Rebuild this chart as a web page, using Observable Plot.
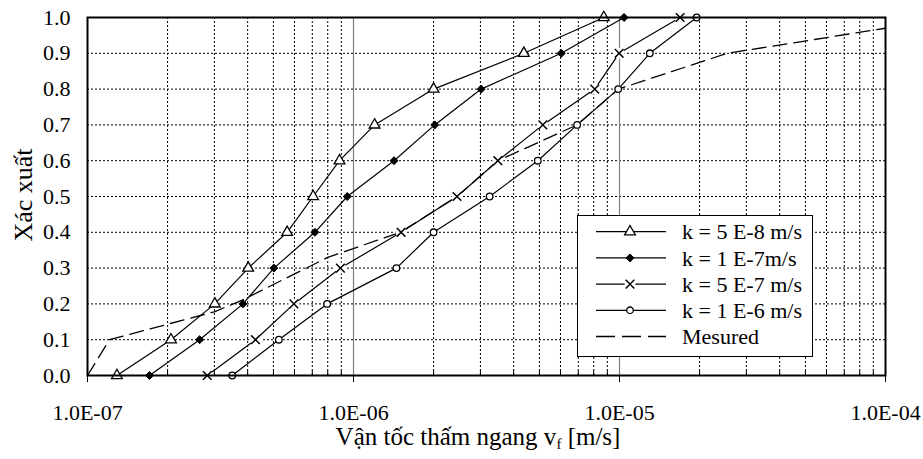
<!DOCTYPE html>
<html><head><meta charset="utf-8">
<script src="https://cdn.jsdelivr.net/npm/d3@7"></script>
<script src="https://cdn.jsdelivr.net/npm/@observablehq/plot@0.6"></script>
<style>body{margin:0;background:#fff} #chart{width:923px;height:459px}
#chart svg, #chart svg text{font-family:"Liberation Serif","Times New Roman",serif !important}</style>
</head><body><div id="chart"></div>
<script>
// Probability levels (y) shared by the four computed series
const probability = [0.0, 0.1, 0.2, 0.3, 0.4, 0.5, 0.6, 0.7, 0.8, 0.9, 1.0];
// Velocity values vf [m/s]
const k5e8 = [1.29e-7, 2.06e-7, 3.01e-7, 4.02e-7, 5.63e-7, 7.05e-7, 8.86e-7, 1.20e-6, 2.00e-6, 4.37e-6, 8.73e-6];
const k1e7 = [1.71e-7, 2.64e-7, 3.84e-7, 5.02e-7, 7.16e-7, 9.47e-7, 1.42e-6, 2.02e-6, 3.02e-6, 6.04e-6, 1.04e-5];
const k5e7 = [2.82e-7, 4.28e-7, 5.97e-7, 8.93e-7, 1.51e-6, 2.45e-6, 3.49e-6, 5.15e-6, 8.07e-6, 9.97e-6, 1.69e-5];
const k1e6 = [3.50e-7, 5.24e-7, 7.96e-7, 1.45e-6, 2.00e-6, 3.25e-6, 4.93e-6, 6.93e-6, 9.89e-6, 1.30e-5, 1.95e-5];
// Measured curve
const measuredV = [1.0e-7, 1.21e-7, 3.0e-7, 3.8e-7, 8.0e-7, 1.5e-6, 2.45e-6, 3.49e-6, 6.93e-6, 9.9e-6, 2.54e-5, 1.0e-4];
const measuredP = [0.0, 0.1, 0.178, 0.21, 0.33, 0.40, 0.50, 0.60, 0.70, 0.80, 0.90, 0.97];

const seriesNames = ["k = 5 E-8 m/s", "k = 1 E-7m/s", "k = 5 E-7 m/s", "k = 1 E-6 m/s", "Mesured"];
const xTicks = [1e-7, 1e-6, 1e-5, 1e-4];
const yTicks = [0.0, 0.1, 0.2, 0.3, 0.4, 0.5, 0.6, 0.7, 0.8, 0.9, 1.0];
const decades = [1e-7, 1e-6, 1e-5];
const minorMultipliers = [2, 3, 4, 5, 6, 7, 8, 9];

const seriesValues = [k5e8, k1e7, k5e7, k1e6];
const rows = [];
seriesValues.forEach((vals, s) => vals.forEach((v, i) => rows.push({series: seriesNames[s], v, p: probability[i]})));
const measured = measuredV.map((v, i) => ({v, p: measuredP[i]}));
const minorGrid = decades.flatMap(d => minorMultipliers.map(m => d * m));
const bySeries = name => rows.filter(r => r.series === name);
const fmt = d => "1.0E-" + String(-Math.round(Math.log10(d))).padStart(2, "0");
const FONT = "Liberation Serif, Times New Roman, serif";

const plot = Plot.plot({
  width: 923, height: 459,
  marginLeft: 87, marginRight: 38, marginTop: 17, marginBottom: 84,
  style: {fontFamily: FONT, fontSize: "22px", color: "black", background: "white"},
  x: {type: "log", domain: [1e-7, 1e-4]},
  y: {domain: [0, 1]},
  marks: [
    Plot.ruleY(yTicks.filter(d => d > 0 && d < 1), {stroke: "black", strokeDasharray: "2,2", strokeWidth: 1}),
    Plot.ruleX(minorGrid, {stroke: "black", strokeDasharray: "2,2", strokeWidth: 1}),
    Plot.ruleX(minorGrid, {y1: 0, y2: 0.012, stroke: "black", strokeWidth: 1}),
    Plot.ruleX([1e-6, 1e-5], {stroke: "#808080", strokeWidth: 1.2}),
    Plot.line(measured, {x: "v", y: "p", stroke: "black", strokeWidth: 1.3, strokeDasharray: "14,7"}),
    Plot.line(rows, {x: "v", y: "p", z: "series", stroke: "black", strokeWidth: 1.2}),
    Plot.dot(bySeries(seriesNames[2]), {x: "v", y: "p", r: 5.5, fill: "white", stroke: null}),
    Plot.dot(bySeries(seriesNames[0]), {x: "v", y: "p", symbol: "triangle", r: 4, fill: "white", stroke: "black", strokeWidth: 1.3}),
    Plot.dot(bySeries(seriesNames[1]), {x: "v", y: "p", symbol: "diamond2", r: 3.6, fill: "black", stroke: "black", strokeWidth: 1}),
    Plot.dot(bySeries(seriesNames[2]), {x: "v", y: "p", symbol: "times", r: 4, stroke: "black", strokeWidth: 1.5}),
    Plot.dot(bySeries(seriesNames[3]), {x: "v", y: "p", symbol: "circle", r: 3.3, fill: "white", stroke: "black", strokeWidth: 1.3}),
    Plot.frame({stroke: "black", strokeWidth: 2}),
    Plot.axisX({ticks: xTicks, tickFormat: fmt, tickSize: 7, tickPadding: 22, label: null, fontSize: 22}),
    Plot.axisY({ticks: yTicks, tickFormat: d => d.toFixed(1), tickSize: 0, tickPadding: 17, label: null, fontSize: 22})
  ]
});
document.getElementById("chart").appendChild(plot);

const svg = d3.select(plot).attr("font-family", FONT).style("font-family", FONT);
// Axis titles
const xt = svg.append("text").attr("x", 478).attr("y", 445).attr("text-anchor", "middle")
  .attr("font-family", FONT).attr("fill", "black").style("font-size", "25px");
xt.append("tspan").text("Vận tốc thấm ngang v");
xt.append("tspan").attr("dy", 4).style("font-size", "15px").text("f");
xt.append("tspan").attr("dy", -4).text(" [m/s]");
svg.append("text").attr("transform", "translate(32,195) rotate(-90)").attr("text-anchor", "middle")
  .attr("font-family", FONT).attr("fill", "black").style("font-size", "26px").text("Xác xuất");

// Legend
const lg = svg.append("g");
lg.append("rect").attr("x", 577.5).attr("y", 215.5).attr("width", 235).attr("height", 141)
  .attr("fill", "white").attr("stroke", "black").attr("stroke-width", 1);
const symbols = [d3.symbolTriangle, d3.symbolDiamond2, d3.symbolTimes, d3.symbolCircle, null];
const radii = [4, 3.6, 4, 3.3, 0];
seriesNames.forEach((name, i) => {
  const y = 231.7 + i * 26.2;
  const line = lg.append("line").attr("x1", 596).attr("x2", 666).attr("y1", y).attr("y2", y)
    .attr("stroke", "black").attr("stroke-width", 1.3);
  if (i === 4) line.attr("stroke-dasharray", "19,7");
  if (i === 2) lg.append("circle").attr("cx", 630).attr("cy", y).attr("r", 5.5).attr("fill", "white");
  if (symbols[i]) {
    const p = lg.append("path").attr("transform", `translate(630,${y})`)
      .attr("d", d3.symbol(symbols[i], radii[i] * radii[i] * Math.PI)());
    if (i === 0 || i === 3) p.attr("fill", "white").attr("stroke", "black").attr("stroke-width", 1.3);
    else if (i === 1) p.attr("fill", "black").attr("stroke", "black");
    else p.attr("fill", "none").attr("stroke", "black").attr("stroke-width", 1.5);
  }
  lg.append("text").attr("x", 682).attr("y", y).attr("dy", "0.35em").attr("text-anchor", "start")
    .attr("font-family", FONT).attr("fill", "black").style("font-size", "22px").text(name);
});
</script>
</body></html>
